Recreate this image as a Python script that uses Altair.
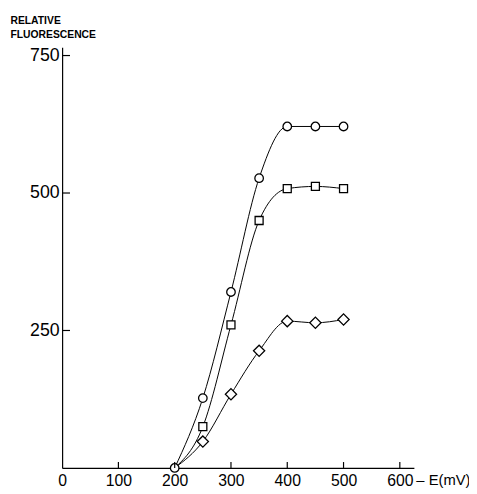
import altair as alt
import pandas as pd

# Data
E_mV = [200, 250, 300, 350, 400, 450, 500]
circle_vals = [0, 127, 320, 527, 621, 621, 621]
square_vals = [0, 75, 260, 450, 508, 512, 508]
diamond_vals = [0, 48, 134, 213, 267, 264, 270]

x_ticks = [0, 100, 200, 300, 400, 500, 600]
y_ticks = [250, 500, 750]

series_names = ["diamond", "square", "circle"]
series_vals = [diamond_vals, square_vals, circle_vals]

rows = []
for name, vals in zip(series_names, series_vals):
    for e, v in zip(E_mV, vals):
        rows.append({"E": e, "F": v, "series": name})
df = pd.DataFrame(rows)

FONT = "Liberation Sans, Arial, sans-serif"
W = 357.5
H = 427.5

xs = alt.Scale(domain=[0, 625], nice=False, zero=False)
ys = alt.Scale(domain=[0, 765], nice=False, zero=False)

x_axis = alt.Axis(
    values=x_ticks, tickSize=0, labelPadding=5, labelFont=FONT, labelFontSize=16,
    labelColor="black", domainColor="black", domainWidth=1.2, grid=False,
    title="– E(mV)", titleFont=FONT, titleFontSize=15, titleFontWeight="normal",
    titleColor="black", titleX=W + 2, titleY=5, titleAlign="left",
    titleBaseline="top", labelFlush=False,
)
y_axis = alt.Axis(
    values=y_ticks, tickSize=0, labelPadding=3, labelFont=FONT, labelFontSize=18,
    labelColor="black", domainColor="black", domainWidth=1.2, grid=False,
    title=["RELATIVE", "FLUORESCENCE"], titleFont=FONT, titleFontSize=10.5,
    titleFontWeight="bold", titleColor="black", titleAngle=0, titleX=-53,
    titleY=-32, titleAlign="left", titleBaseline="top", titleLineHeight=14,
)

base = alt.Chart(df)

lines = base.mark_line(color="black", strokeWidth=1, interpolate="monotone").encode(
    x=alt.X("E:Q", scale=xs, axis=x_axis),
    y=alt.Y("F:Q", scale=ys, axis=y_axis),
    detail="series:N",
)


def point_layer(name, shape, size, include_origin):
    flt = f"datum.series == '{name}'" + ("" if include_origin else " && datum.E > 200")
    return base.transform_filter(flt).mark_point(
        shape=shape, size=size, filled=True, fill="white", stroke="black",
        strokeWidth=1.3, opacity=1,
    ).encode(
        x=alt.X("E:Q", scale=xs),
        y=alt.Y("F:Q", scale=ys),
    )


pts_diamond = point_layer("diamond", "diamond", 130, False)
pts_square = point_layer("square", "square", 66, False)
pts_circle = point_layer("circle", "circle", 75, True)

xt = pd.DataFrame({"t": x_ticks[1:]})
yt = pd.DataFrame({"t": y_ticks})

x_tick_marks = alt.Chart(xt).mark_rule(color="black", strokeWidth=1.2).encode(
    x=alt.X("t:Q", scale=xs),
    y=alt.value(H),
    y2=alt.value(H - 6),
)
y_tick_marks = alt.Chart(yt).mark_rule(color="black", strokeWidth=1.2).encode(
    y=alt.Y("t:Q", scale=ys),
    x=alt.value(0),
    x2=alt.value(8),
)

chart = alt.layer(lines, pts_diamond, pts_square, pts_circle,
                  x_tick_marks, y_tick_marks).properties(
    width=W, height=H,
    background="white",
    autosize=alt.AutoSizeParams(type="none"),
    padding={"left": 55, "top": 36, "right": 56, "bottom": 20},
).configure_view(strokeWidth=0, stroke=None)

chart.save("out.html", embed_options={"renderer": "svg", "actions": False})
